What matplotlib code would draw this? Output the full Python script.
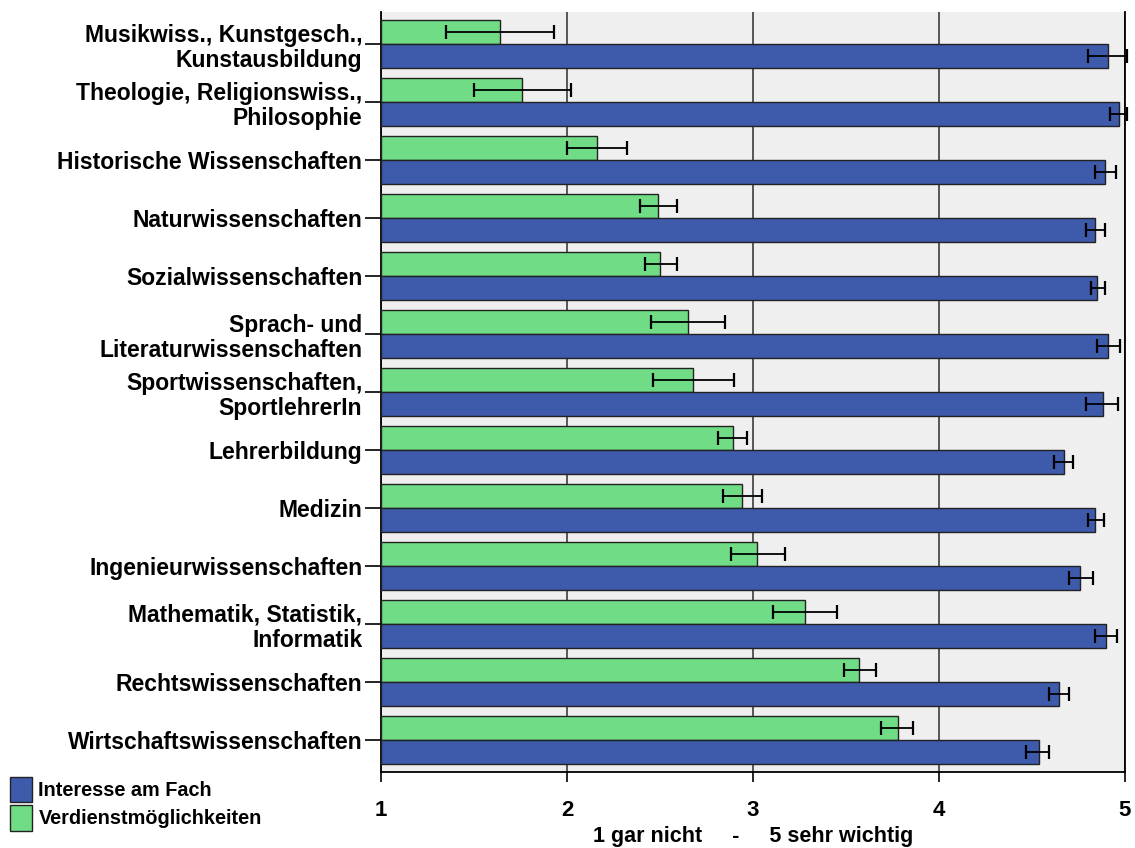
import matplotlib.pyplot as plt
import numpy as np
from matplotlib.patches import Patch

# Fields of study, listed top to bottom.
faecher = [
    'Musikwiss., Kunstgesch.,\nKunstausbildung',
    'Theologie, Religionswiss.,\nPhilosophie',
    'Historische Wissenschaften',
    'Naturwissenschaften',
    'Sozialwissenschaften',
    'Sprach- und\nLiteraturwissenschaften',
    'Sportwissenschaften,\nSportlehrerIn',
    'Lehrerbildung',
    'Medizin',
    'Ingenieurwissenschaften',
    'Mathematik, Statistik,\nInformatik',
    'Rechtswissenschaften',
    'Wirtschaftswissenschaften',
]

# Mean ratings (1 = gar nicht, 5 = sehr wichtig) with confidence limits.
verdienst = [1.64, 1.76, 2.16, 2.49, 2.50, 2.65, 2.68, 2.89, 2.94, 3.02, 3.28, 3.57, 3.78]
verdienst_lo = [1.35, 1.50, 2.00, 2.39, 2.42, 2.45, 2.46, 2.81, 2.84, 2.88, 3.11, 3.49, 3.69]
verdienst_hi = [1.93, 2.02, 2.32, 2.59, 2.59, 2.85, 2.90, 2.97, 3.05, 3.17, 3.45, 3.66, 3.86]

interesse = [4.91, 4.97, 4.89, 4.84, 4.85, 4.91, 4.88, 4.67, 4.84, 4.76, 4.90, 4.645, 4.535]
interesse_lo = [4.80, 4.92, 4.84, 4.79, 4.815, 4.85, 4.79, 4.62, 4.80, 4.70, 4.84, 4.59, 4.47]
interesse_hi = [5.01, 5.01, 4.95, 4.89, 4.89, 4.975, 4.96, 4.72, 4.885, 4.83, 4.955, 4.70, 4.59]

x_ticks = [1, 2, 3, 4, 5]

blau = '#3d5aab'
gruen = '#70dd86'
kante = '#222222'

plt.rcParams['font.family'] = ['Liberation Sans', 'DejaVu Sans']
plt.rcParams['font.weight'] = 'bold'

fig = plt.figure(figsize=(11.35, 8.48), dpi=100)
ax = fig.add_axes([0.3357, 0.0896, 0.6555, 0.8962])
ax.set_facecolor('#efefef')

y = np.arange(len(faecher))
h = 0.42

def fehler(werte, lo, hi):
    werte = np.array(werte)
    return [werte - np.array(lo), np.array(hi) - werte]

ax.barh(y - h / 2, np.array(verdienst) - 1, left=1, height=h, color=gruen,
        edgecolor=kante, linewidth=1.0, zorder=3)
ax.barh(y + h / 2, np.array(interesse) - 1, left=1, height=h, color=blau,
        edgecolor=kante, linewidth=1.0, zorder=3)

ax.errorbar(verdienst, y - h / 2, xerr=fehler(verdienst, verdienst_lo, verdienst_hi),
            fmt='none', ecolor='black', elinewidth=1.3, capsize=5, capthick=1.6,
            zorder=4, clip_on=False)
ax.errorbar(interesse, y + h / 2, xerr=fehler(interesse, interesse_lo, interesse_hi),
            fmt='none', ecolor='black', elinewidth=1.3, capsize=5, capthick=1.6,
            zorder=4, clip_on=False)

# Axes limits and ticks
ax.set_xlim(1, 5)
ax.set_ylim(len(faecher) - 1 + 0.552, -0.552)
ax.set_xticks(x_ticks)
ax.set_xticklabels([str(t) for t in x_ticks], fontsize=16, fontweight='bold')
ax.set_yticks(y)
ax.set_yticklabels(faecher, fontsize=16.5, fontweight='bold', linespacing=1.12)
ax.tick_params(axis='y', length=11.5, width=1.2, pad=2)
ax.tick_params(axis='x', length=7, width=1.2, pad=13)

ax.xaxis.grid(True, color='#4a4a4a', linewidth=1.3)
ax.set_axisbelow(True)

for side in ['left', 'bottom', 'right']:
    ax.spines[side].set_color('black')
    ax.spines[side].set_linewidth(1.3)
ax.spines['top'].set_visible(False)

ax.set_xlabel('1 gar nicht     -     5 sehr wichtig', fontsize=15.5,
              fontweight='bold', labelpad=4)

# Legend in the lower left corner
handles = [Patch(facecolor=blau, edgecolor=kante, linewidth=1.0),
           Patch(facecolor=gruen, edgecolor=kante, linewidth=1.0)]
fig.legend(handles, ['Interesse am Fach', 'Verdienstmöglichkeiten'],
           loc='upper left', bbox_to_anchor=(0.009, 0.084), frameon=False,
           prop={'size': 14.3, 'weight': 'bold'}, handlelength=1.12,
           handleheight=1.6, handletextpad=0.3, labelspacing=0.14,
           borderaxespad=0, borderpad=0)

fig.savefig('out.png', dpi=100)
